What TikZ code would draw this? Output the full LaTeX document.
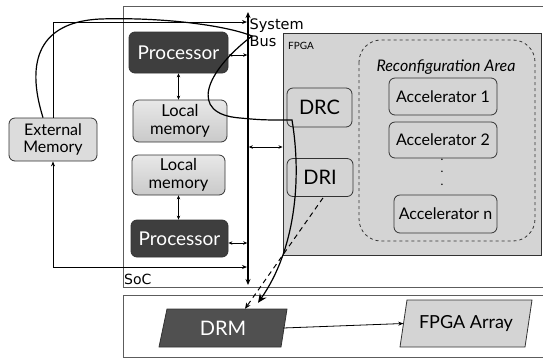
\documentclass[tikz,border=0pt]{standalone}
\usepackage{fontspec}
\setmainfont{Lato}
\newfontfamily\djv{DejaVu Sans}
\usetikzlibrary{arrows.meta,calc}
\definecolor{procfill}{HTML}{3E3E3E}
\definecolor{fpgafill}{HTML}{D4D4D4}
\definecolor{edgec}{HTML}{333333}
\definecolor{extfill}{HTML}{DCDCDC}
\definecolor{drmfill}{HTML}{505050}
\tikzset{
  box/.style={draw=edgec, line width=0.8pt, rounded corners=6pt, align=center, inner sep=1pt},
  procbox/.style={box, fill=procfill, text=white, font=\fontsize{19}{20}\selectfont},
  membox/.style={box, top color=gray!18, bottom color=gray!42, font=\fontsize{16.5}{17.5}\selectfont},
  accbox/.style={box, fill=fpgafill, font=\fontsize{16}{17}\selectfont},
  ctrlbox/.style={box, fill=fpgafill, font=\fontsize{20}{21}\selectfont},
  conn/.style={line width=1pt, -{Stealth[length=5pt,width=4pt]}},
  dbl/.style={line width=1pt, {Stealth[length=4pt,width=3.5pt]}-{Stealth[length=4pt,width=3.5pt]}},
  outer/.style={draw=edgec!80, line width=0.9pt},
}
\begin{document}
\begin{tikzpicture}[x=1pt,y=-1pt]
\useasboundingbox (0,0) rectangle (543,360);
\clip (0,0) rectangle (543,360);
\fill[white] (0,0) rectangle (543,360);
% outer boxes
\draw[outer] (123,6) rectangle (600,287);
\draw[outer] (123,295) rectangle (600,357);
\node[font=\djv\fontsize{14}{15}\selectfont, anchor=west, inner sep=0pt] (soc) at (124,279) {SoC};
% FPGA
\node[draw=edgec, line width=0.9pt, fill=fpgafill, minimum width=258, minimum height=222] (fpga) at (412,144) {};
\node[font=\fontsize{10}{11}\selectfont, anchor=north west, inner sep=0pt] (fpgalbl) at (288,42) {FPGA};
\draw[dashed, draw=edgec, line width=0.8pt, rounded corners=22pt] (359,40) rectangle (535,241);
\node[font=\itshape\fontsize{16}{17}\selectfont] (recon) at (446,67) {Reconfiguration Area};
\node[accbox, minimum width=108, minimum height=37] (acc1) at (443,96.5) {Accelerator 1};
\node[accbox, minimum width=108, minimum height=36] (acc2) at (443,140) {Accelerator 2};
\node[font=\fontsize{12}{12.5}\selectfont, align=center, inner sep=0pt] (dots) at (442,172) {.\\.\\.};
\node[accbox, minimum width=103, minimum height=38] (accn) at (445.5,214) {Accelerator n};
\node[ctrlbox, minimum width=65, minimum height=39] (drc) at (319.5,107.5) {DRC};
\node[ctrlbox, minimum width=66, minimum height=38] (dri) at (320,177.5) {DRI};
% SoC components
\node[procbox, minimum width=99, minimum height=41] (proc1) at (178.5,52.5) {Processor};
\node[membox, minimum width=94, minimum height=42] (lm1) at (180,121) {Local\\memory};
\node[membox, minimum width=93, minimum height=40] (lm2) at (178.5,175) {Local\\memory};
\node[procbox, minimum width=97, minimum height=37] (proc2) at (179.5,238.5) {Processor};
\node[box, fill=extfill, minimum width=88, minimum height=43, font=\fontsize{16}{17}\selectfont] (ext) at (53,139.5) {External\\Memory};
% bus
\coordinate (bustop) at (248,12);
\coordinate (busbot) at (248,285);
\draw[line width=1.6pt, {Stealth[length=6pt,width=5pt]}-{Stealth[length=6pt,width=5pt]}] (bustop) -- (busbot);
\node[font=\djv\fontsize{14.5}{17}\selectfont, anchor=north west, align=left, inner sep=0pt] (buslbl) at (249.5,19) {System\\Bus};
% local arrows
\coordinate (b1) at (247.2,55);
\coordinate (b2) at (247.2,243);
\coordinate (b3) at (248.8,147);
\draw[dbl] (proc1.east |- b1) -- (b1);
\draw[dbl] (proc2.east |- b2) -- (b2);
\draw[dbl] (b3) -- (fpga.west |- b3);
\draw[dbl] (proc1.south) -- (proc1.south |- lm1.north);
\draw[dbl] (lm2.south) -- (lm2.south |- proc2.north);
% external memory links
\coordinate (bt) at (247,22);
\coordinate (bb) at (247,267);
\draw[conn] (ext.north) |- (bt);
\draw[line width=1pt, {Stealth[length=5pt,width=4pt]}-{Stealth[length=5pt,width=4pt]}] (ext.south) |- (bb);
% bottom box
\coordinate (drmc) at (223,328);
\filldraw[fill=drmfill, draw=edgec, line width=0.8pt] ($(drmc)+(-56,-19)$) -- ($(drmc)+(64,-19)$) -- ($(drmc)+(58,19)$) -- ($(drmc)+(-64,19)$) -- cycle;
\node[text=white, font=\fontsize{20}{21}\selectfont, minimum width=120, minimum height=38] (drm) at (drmc) {DRM};
\coordinate (fac) at (466,323.5);
\filldraw[fill=fpgafill, draw=edgec, line width=0.8pt] ($(fac)+(-59,-23.5)$) -- ($(fac)+(66,-23.5)$) -- ($(fac)+(59,23.5)$) -- ($(fac)+(-66,23.5)$) -- cycle;
\node[font=\fontsize{18}{19}\selectfont, minimum width=125, minimum height=47] (farr) at (fac) {FPGA Array};
\draw[line width=0.8pt, -{Stealth[length=5pt,width=4pt]}] (drm.east) -- (farr.west);
% dashed DRI -> DRM
\coordinate (ds) at ($(dri.south)+(3,1)$);
\coordinate (de) at ($(drm.north)+(22,0)$);
\draw[dashed, line width=1pt, dash pattern=on 5pt off 4pt, -{Stealth[length=6pt,width=5pt]}] (ds) -- (de);
% curved flow line
\coordinate (c0) at ($(ext.north)+(-10,0)$);
\coordinate (c1) at (252,36);
\coordinate (c2) at (292,120);
\coordinate (c3) at ($(drm.north)+(35,-6)$);
\draw[line width=1.2pt, -{Stealth[length=9pt,width=8pt]}]
  (c0) .. controls (25,60) and (40,22) .. (100,19)
  .. controls (160,17) and (225,25) .. (c1)
  .. controls (205,72) and (188,114) .. (240,118)
  .. controls (262,120) .. (c2)
  .. controls (302,180) and (295,250) .. (c3);
\end{tikzpicture}
\end{document}
